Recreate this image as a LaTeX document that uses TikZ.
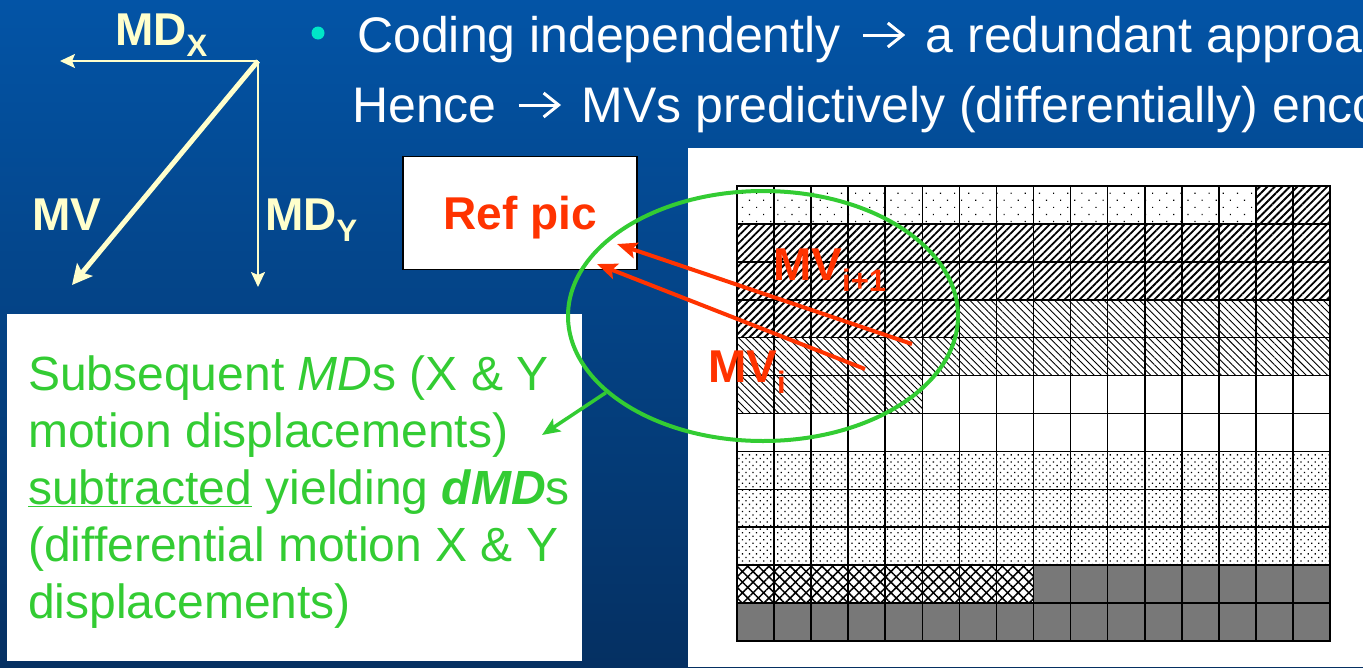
\documentclass[tikz,border=0pt]{standalone}
\usepackage{fontspec}
\setmainfont{Liberation Sans}
\usetikzlibrary{arrows.meta,patterns.meta,shapes.geometric}

\definecolor{slideblueT}{RGB}{3,84,166}
\definecolor{slideblueB}{RGB}{5,48,98}
\definecolor{paleyellow}{RGB}{255,255,204}
\definecolor{mvred}{RGB}{255,51,0}
\definecolor{mdgreen}{RGB}{51,204,51}
\definecolor{bulletcyan}{RGB}{0,230,200}
\definecolor{cellgray}{RGB}{120,120,120}

% lowered, smaller index next to a bold label
\newcommand\lowsub[1]{\raisebox{-11pt}{\fontsize{31}{31}\selectfont #1}}

% open-headed arrow used inside the heading lines
\newsavebox\chevarrowbox
\newcommand\chevarrow{\hspace{8pt}\usebox\chevarrowbox\hspace{9pt}}

\begin{document}
\sbox\chevarrowbox{\begin{pgfpicture}
  \pgfsetbaseline{0pt}
  \pgfpathrectangle{\pgfpointorigin}{\pgfpoint{40pt}{30pt}}
  \pgfusepath{use as bounding box}
  \pgfsetstrokecolor{white}
  \pgfsetlinewidth{3pt}
  \pgfpathmoveto{\pgfpoint{0pt}{17pt}}
  \pgfpathlineto{\pgfpoint{39pt}{17pt}}
  \pgfusepath{stroke}
  \pgfsetmiterjoin
  \pgfpathmoveto{\pgfpoint{25pt}{29pt}}
  \pgfpathlineto{\pgfpoint{40pt}{17pt}}
  \pgfpathlineto{\pgfpoint{25pt}{5pt}}
  \pgfusepath{stroke}
\end{pgfpicture}}%
\begin{tikzpicture}[x=1pt,y=-1pt,
  vecthin/.style={draw=paleyellow, line width=2pt, -{Stealth[length=15pt,width=14pt,inset=3pt]}},
  vecthick/.style={draw=paleyellow, line width=5pt, -{Stealth[length=20pt,width=20pt,inset=4pt]}},
  vlabel/.style={text=paleyellow, font=\fontsize{46}{46}\selectfont\bfseries, inner sep=0pt, anchor=base west},
  heading/.style={text=white, font=\fontsize{50}{60}\selectfont, inner sep=0pt, anchor=base west},
  note/.style={text=mdgreen, font=\fontsize{48}{57}\selectfont, inner sep=0pt, anchor=base west},
  mvlabel/.style={text=mvred, font=\fontsize{46}{46}\selectfont\bfseries, inner sep=0pt, anchor=base west},
  mvarrow/.style={draw=mvred, line width=4pt, -{Stealth[length=20pt,width=16pt,inset=4pt]}},
  greenarrow/.style={draw=mdgreen, line width=3.5pt, -{Stealth[length=18pt,width=15pt,inset=4pt]}},
  cellline/.style={line width=1.6pt, black, line cap=rect},
  thickne/.style={pattern={Lines[angle=45,distance=5.3pt,line width=1.8pt]}},
  thinnw/.style={pattern={Lines[angle=-45,distance=5pt,line width=0.9pt]}},
  sparsedots/.style={pattern={Dots[angle=45,distance=10pt,radius=0.8pt]}},
  densedots/.style={pattern={Dots[angle=45,distance=5pt,radius=0.9pt]}},
  crossed/.style={pattern={Hatch[angle=45,distance=7.5pt,line width=1.5pt]}},
]
\useasboundingbox (0,0) rectangle (1363,667);
\clip (0,0) rectangle (1363,667);

% slide background
\shade[top color=slideblueT, bottom color=slideblueB] (0,0) rectangle (1363,667);

% heading text
\fill[bulletcyan] (318,33) circle (6.5);
\node[heading] (h1) at (357,52) {Coding independently \chevarrow{} a redundant approa};
\node[heading] (h2) at (352,122) {Hence \chevarrow{} MVs predictively (differentially) enco};

% motion vector and its two displacements
\coordinate (O) at (258,61);
\coordinate (mdxtip) at (60,61);
\coordinate (mdytip) at (258,287);
\coordinate (mvtip) at (72,285);
\draw[vecthin] (O) -- (mdxtip);
\draw[vecthin] (O) -- (mdytip);
\draw[vecthick] (O) -- (mvtip);
\node[vlabel] (mdx) at (115,45) {MD\lowsub{X}};
\node[vlabel] (mvl) at (32,230) {MV};
\node[vlabel] (mdy) at (265,230) {MD\lowsub{Y}};

% explanatory note
\node[fill=white, minimum width=575, minimum height=347, inner sep=0pt] (tb) at (294.5,487.5) {};
\node[note] (l1) at (28,390) {Subsequent \textit{MD}s (X \& Y};
\node[note] (l2) at (28,447) {motion displacements)};
\node[note] (l3) at (28,504) {\underline{subtracted} yielding \textbf{\textit{dMD}}s};
\node[note] (l4) at (28,561) {(differential motion X \& Y};
\node[note] (l5) at (28,618) {displacements)};

% current picture: block grid
\fill[white] (688,148) rectangle (1363,667);
\def\cw{37.0625}
\def\ch{37.9167}
\path[sparsedots] (737,186) rectangle ({737+14*\cw},{186+\ch});
\path[thickne] ({737+14*\cw},186) rectangle (1330,{186+\ch});
\path[thickne] (737,{186+\ch}) rectangle (1330,{186+3*\ch});
\path[thickne] (737,{186+3*\ch}) rectangle ({737+6*\cw},{186+4*\ch});
\path[thinnw] ({737+6*\cw},{186+3*\ch}) rectangle (1330,{186+4*\ch});
\path[thinnw] (737,{186+4*\ch}) rectangle (1330,{186+5*\ch});
\path[thinnw] (737,{186+5*\ch}) rectangle ({737+5*\cw},{186+6*\ch});
\path[densedots] (737,{186+7*\ch}) rectangle (1330,{186+10*\ch});
\path[crossed] (737,{186+10*\ch}) rectangle ({737+8*\cw},{186+11*\ch});
\fill[cellgray] ({737+8*\cw},{186+10*\ch}) rectangle (1330,{186+11*\ch});
\fill[cellgray] (737,{186+11*\ch}) rectangle (1330,641);
\foreach \i in {0,...,16} \draw[cellline] ({737+\i*\cw},186) -- ({737+\i*\cw},641);
\foreach \j in {0,...,12} \draw[cellline] (737,{186+\j*\ch}) -- (1330,{186+\j*\ch});

% reference picture
\node[draw=black, line width=1.5pt, fill=white, minimum width=234, minimum height=113, inner sep=0pt, text depth=0pt,
      text=mvred, font=\fontsize{46}{46}\selectfont\bfseries] (ref) at (520,213) {Ref pic};

% neighbourhood of the predicted vectors
\node[draw=mdgreen, line width=4pt, ellipse, minimum width=390, minimum height=250, inner sep=0pt] (ell) at (763,316) {};
\coordinate (gtip) at (542,435);
\draw[greenarrow] (ell.206.6) -- (gtip);

% successive motion vectors pointing into the reference picture
\coordinate (r1s) at (912,344);
\coordinate (r1t) at (617,244);
\coordinate (r2s) at (865,369);
\coordinate (r2t) at (597,264);
\draw[mvarrow] (r1s) -- (r1t);
\draw[mvarrow] (r2s) -- (r2t);
\node[mvlabel] (mvnext) at (773,280) {MV\lowsub{i+1}};
\node[mvlabel] (mvcur) at (708,382) {MV\lowsub{i}};
\end{tikzpicture}
\end{document}
